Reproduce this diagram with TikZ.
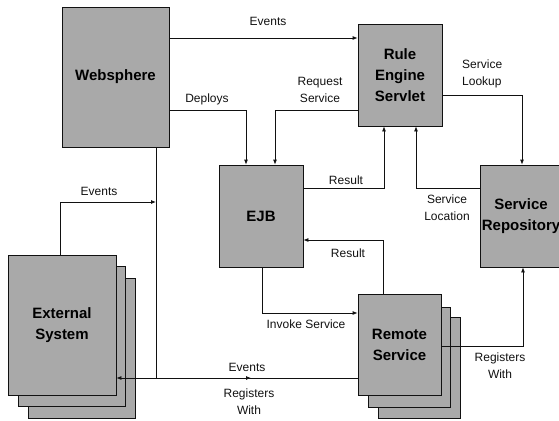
\documentclass[tikz,border=0pt]{standalone}
\usepackage{fontspec}
\setmainfont{Liberation Sans}
\usepackage{xcolor}
\usepackage{tikz}
\usetikzlibrary{arrows.meta, positioning}
\definecolor{boxgray}{HTML}{A9A9A9}
\definecolor{ink}{HTML}{111111}
\tikzset{
	box/.style={draw=ink, line width=0.8pt, fill=boxgray, align=center,
		inner sep=0pt, font=\bfseries\fontsize{15}{21}\selectfont},
	lbl/.style={align=center, inner sep=0pt, text=ink, font=\fontsize{12}{17}\selectfont},
	arr/.style={-{Latex[length=5pt, width=4pt]}, line width=0.8pt, ink},
	wire/.style={line width=0.8pt, ink},
}

\begin{document}
\begin{tikzpicture}[x=1pt, y=-1pt]
	\useasboundingbox (0,0) rectangle (559,420);
	% stacked copies first
	\node[box, minimum width=107pt, minimum height=140pt] (ext3) at (81.5,348) {};
	\node[box, minimum width=107pt, minimum height=140pt] (ext2) at (71.5,336) {};
	\node[box, minimum width=108pt, minimum height=140pt] (ext) at (62,325) {External\\System};
	\node[box, minimum width=82pt, minimum height=101pt] (rem3) at (419,367.5) {};
	\node[box, minimum width=82pt, minimum height=100pt] (rem2) at (409,357) {};
	\node[box, minimum width=83pt, minimum height=101pt] (rem) at (399.5,344.5) {Remote\\Service};

	\node[box, minimum width=107pt, minimum height=140pt] (ws) at (115.5,77) {Websphere};
	\node[box, minimum width=84pt, minimum height=102pt] (res) at (400,75) {Rule\\Engine\\Servlet};
	\node[box, minimum width=84pt, minimum height=102pt] (ejb) at (261,216) {EJB};
	\node[box, minimum width=82pt, minimum height=102pt] (repo) at (521,216) {Service\\Repository};

	\coordinate (bus) at (156,378);

	\draw[arr] (ws.east |- 0,38) -- (res.west |- 0,38);
	\draw[arr] (ws.east |- 0,110) -| (246,0 |- ejb.north);
	\draw[arr] (res.west |- 0,110) -| (275,0 |- ejb.north);
	\draw[arr] (ejb.east |- 0,188) -| (384,0 |- res.south);
	\draw[arr] (repo.west |- 0,188) -| (416,0 |- res.south);
	\draw[arr] (res.east |- 0,95) -| (522,0 |- repo.north);
	\draw[arr] (383,0 |- rem.north) |- (ejb.east |- 0,240);
	\draw[arr] (262,0 |- ejb.south) |- (rem.west |- 0,313);
	\draw[arr] (rem.east |- 0,346) -| (523,0 |- repo.south);
	\draw[arr] (rem.west |- bus) -- (ext.east |- bus);
	\draw[arr] (bus) -- (251,378);
	\draw[wire] (ws.south -| bus) -- (bus);
	\draw[arr] (60,0 |- ext.north) |- (bus |- 0,202);

	\node[lbl] (l1) at (268,21) {Events};
	\node[lbl] (l2) at (207,99) {Deploys};
	\node[lbl] (l3) at (320,90) {Request\\Service};
	\node[lbl] (l4) at (346,180) {Result};
	\node[lbl] (l5) at (447,208) {Service\\Location};
	\node[lbl, align=left, anchor=west] (l6) at (462,74) {Service\\Lookup};
	\node[lbl] (l7) at (348,253) {Result};
	\node[lbl] (l8) at (306,324) {Invoke Service};
	\node[lbl] (l9) at (500,366) {Registers\\With};
	\node[lbl] (l10) at (247,367) {Events};
	\node[lbl] (l11) at (249,402) {Registers\\With};
	\node[lbl] (l12) at (99,191) {Events};
\end{tikzpicture}
\end{document}
